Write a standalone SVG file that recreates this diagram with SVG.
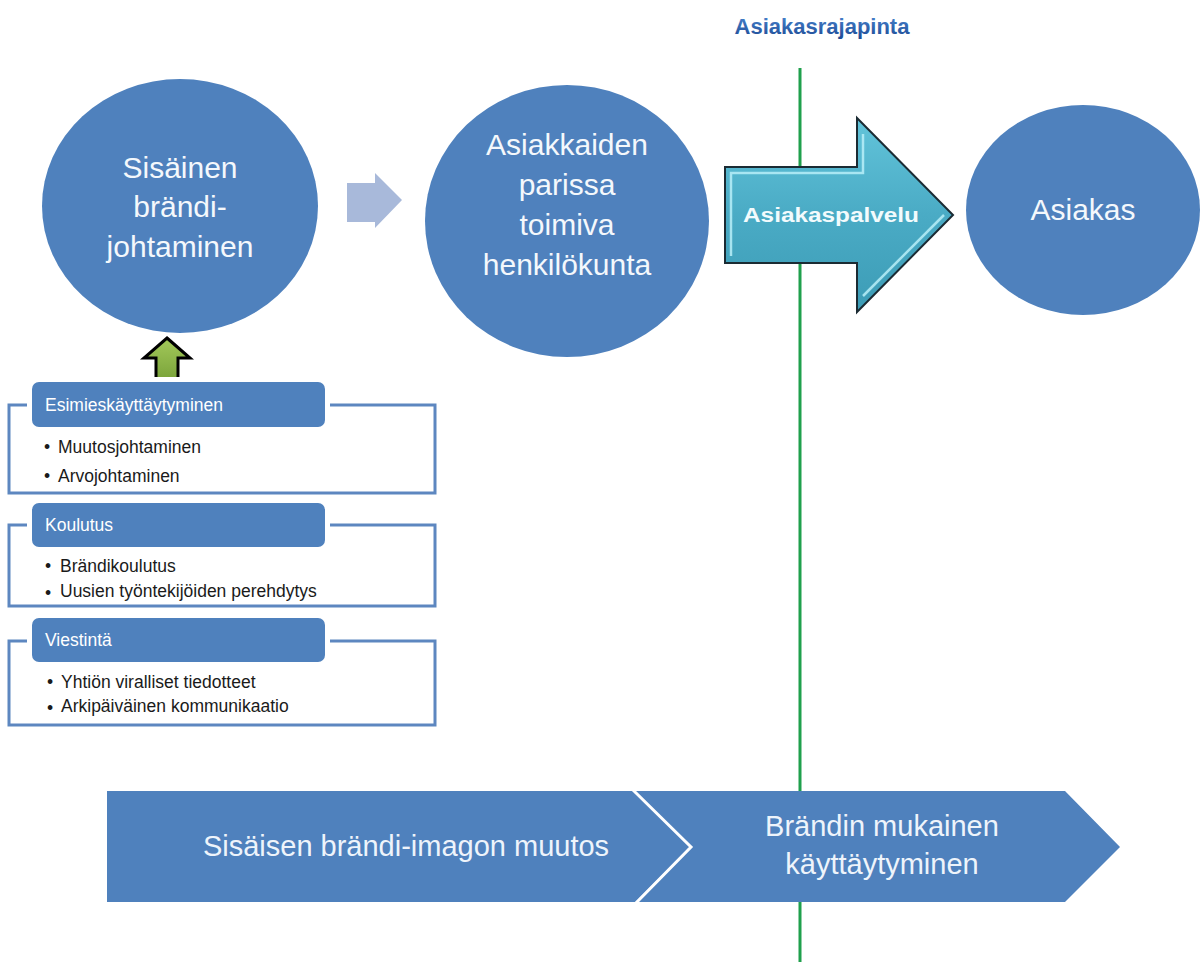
<svg xmlns="http://www.w3.org/2000/svg" width="1201" height="962" viewBox="0 0 1201 962">
<defs>
<linearGradient id="cyanG" x1="0" y1="0" x2="0" y2="1">
<stop offset="0" stop-color="#62c4da"/>
<stop offset="0.5" stop-color="#4aabc5"/>
<stop offset="1" stop-color="#3c9cb6"/>
</linearGradient>
<linearGradient id="titleG" x1="0" y1="0" x2="0" y2="1">
<stop offset="0" stop-color="#4a86d0"/>
<stop offset="1" stop-color="#1d4a94"/>
</linearGradient>
<linearGradient id="greenG" x1="0" y1="0" x2="0" y2="1">
<stop offset="0" stop-color="#a3c95a"/>
<stop offset="1" stop-color="#7aa33a"/>
</linearGradient>
</defs>
<style>
.circ{fill:#4f81bd}
.ctext{font-family:"Liberation Sans",Arial,sans-serif;font-size:30px;fill:#f4f8fc;text-anchor:middle}
.outline{fill:none;stroke:#5d87c0;stroke-width:3}
.hdr{fill:#4f81bd;stroke:#ffffff;stroke-width:10;paint-order:stroke}
.htext{font-family:"Liberation Sans",Arial,sans-serif;font-size:17.5px;fill:#ffffff}
.btext{font-family:"Liberation Sans",Arial,sans-serif;font-size:17.5px;fill:#1a1a1a}
.chev{fill:#4f81bd}
.chtext{font-family:"Liberation Sans",Arial,sans-serif;font-size:29px;fill:#eef4fb;text-anchor:middle}
</style>
<rect width="1201" height="962" fill="#ffffff"/>

<g id="title">
<text x="822" y="34" font-family="'Liberation Sans',Arial,sans-serif" font-size="22" font-weight="bold" fill="url(#titleG)" text-anchor="middle">Asiakasrajapinta</text>
</g>

<g id="boundary-line">
<line x1="800" y1="68" x2="800" y2="962" stroke="#1fa04c" stroke-width="3"/>
</g>

<g id="connectors">
<polygon points="347,183 375,183 375,173 402,200 375,228 375,222 347,222" fill="#a8b9da"/>
<polygon points="167,338 190,358 178,358 178,380 156,380 156,358 144,358" fill="url(#greenG)" stroke="#000000" stroke-width="3" stroke-linejoin="miter"/>
</g>

<g id="node-sisainen">
<ellipse class="circ" cx="180" cy="206" rx="138" ry="127"/>
<text class="ctext" x="180" y="178">Sisäinen</text>
<text class="ctext" x="180" y="217">brändi-</text>
<text class="ctext" x="180" y="257">johtaminen</text>
</g>

<g id="node-henkilokunta">
<ellipse class="circ" cx="567" cy="221" rx="142" ry="136"/>
<text class="ctext" x="567" y="155">Asiakkaiden</text>
<text class="ctext" x="567" y="195">parissa</text>
<text class="ctext" x="567" y="235">toimiva</text>
<text class="ctext" x="567" y="275">henkilökunta</text>
</g>

<g id="node-asiakaspalvelu">
<polygon points="725,167 857,167 857,118 953,215 857,312 857,263 725,263" fill="url(#cyanG)" stroke="#1b2b33" stroke-width="2" stroke-linejoin="miter"/>
<polyline points="731,256 731,173 863,173 863,134" fill="none" stroke="#b8eef8" stroke-width="2.5" opacity="0.85"/>
<polyline points="863,296 944,215" fill="none" stroke="#b8eef8" stroke-width="2.5" opacity="0.85"/>
<text x="831" y="222" font-family="'Liberation Sans',Arial,sans-serif" font-size="20" font-weight="bold" fill="#f2fbfd" text-anchor="middle" textLength="176" lengthAdjust="spacingAndGlyphs">Asiakaspalvelu</text>
</g>

<g id="node-asiakas">
<ellipse class="circ" cx="1083" cy="210" rx="117" ry="105"/>
<text class="ctext" x="1083" y="220">Asiakas</text>
</g>

<g id="box-esimies">
<rect class="outline" x="9" y="405" width="426" height="88"/>
<rect class="hdr" x="32" y="382" width="293" height="45" rx="7"/>
<text class="htext" x="45" y="411">Esimieskäyttäytyminen</text>
<text class="btext" x="44" y="453">•</text>
<text class="btext" x="58" y="453">Muutosjohtaminen</text>
<text class="btext" x="44" y="482">•</text>
<text class="btext" x="58" y="482">Arvojohtaminen</text>
</g>

<g id="box-koulutus">
<rect class="outline" x="9" y="525" width="426" height="81"/>
<rect class="hdr" x="32" y="503" width="293" height="44" rx="7"/>
<text class="htext" x="45" y="531">Koulutus</text>
<text class="btext" x="45" y="572">•</text>
<text class="btext" x="60" y="572">Brändikoulutus</text>
<text class="btext" x="45" y="599" font-size="15">•</text>
<text class="btext" x="60" y="597">Uusien työntekijöiden perehdytys</text>
</g>

<g id="box-viestinta">
<rect class="outline" x="9" y="641" width="426" height="84"/>
<rect class="hdr" x="32" y="618" width="293" height="44" rx="7"/>
<text class="htext" x="45" y="646">Viestintä</text>
<text class="btext" x="47" y="688">•</text>
<text class="btext" x="61" y="688">Yhtiön viralliset tiedotteet</text>
<text class="btext" x="47" y="714" font-size="15">•</text>
<text class="btext" x="61" y="712">Arkipäiväinen kommunikaatio</text>
</g>

<g id="chevron-muutos">
<polygon class="chev" points="107,791 635,791 690,847 635,902 107,902"/>
<text class="chtext" x="406" y="856">Sisäisen brändi-imagon muutos</text>
</g>

<g id="chevron-kayttaytyminen">
<polygon class="chev" points="635,791 1065,791 1120,847 1065,902 635,902 690,847"/>
<polyline points="633,790 691,847 636,903" fill="none" stroke="#ffffff" stroke-width="3"/>
<text class="chtext" x="882" y="836">Brändin mukainen</text>
<text class="chtext" x="882" y="874">käyttäytyminen</text>
</g>
</svg>
